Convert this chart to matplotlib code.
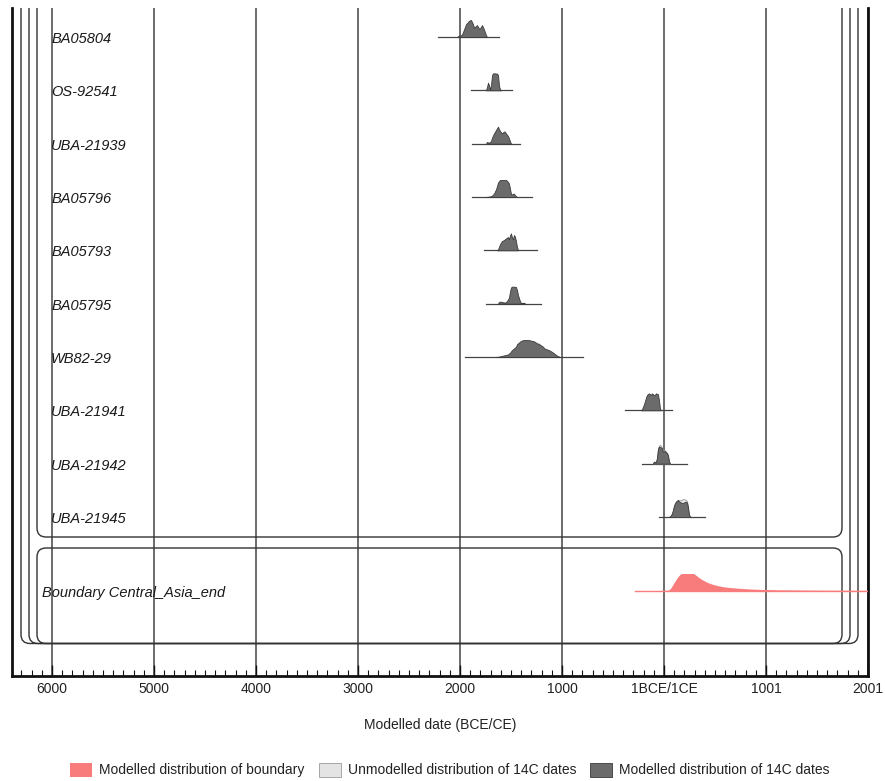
import numpy as np
import matplotlib
matplotlib.use("Agg")
import matplotlib.pyplot as plt
from matplotlib.patches import FancyBboxPatch, Patch
from matplotlib.transforms import Affine2D

plt.rcParams['font.family'] = ['Liberation Sans', 'DejaVu Sans']

# ---------------- data (years: negative = BCE) ----------------
sample_names = ["BA05804", "OS-92541", "UBA-21939", "BA05796", "BA05793",
                "BA05795", "WB82-29", "UBA-21941", "UBA-21942", "UBA-21945"]
range_lo = [-2216, -1892, -1882, -1882, -1765, -1745, -1951, -382, -216, -49]
range_hi = [-1618, -1490, -1412, -1294, -1245, -1206, -794, 78, 225, 402]

ba05804_years = [-2029, -2010, -1990, -1980, -1960, -1941, -1912, -1892, -1872, -1863, -1843,
                 -1833, -1814, -1804, -1784, -1765, -1745, -1735]
ba05804_dens = [0, 0.08, 0.1, 0.15, 0.45, 0.75, 0.95, 1.0, 0.75, 0.55, 0.65, 0.7, 0.5, 0.5,
                0.7, 0.45, 0.1, 0]
os92541_years = [-1745, -1735, -1725, -1715, -1706, -1696, -1686, -1676, -1657, -1637, -1627,
                 -1618, -1608, -1598]
os92541_dens = [0, 0.2, 0.45, 0.3, 0.05, 0.3, 0.9, 1.0, 1.0, 0.98, 0.9, 0.3, 0.05, 0]
uba21939_years = [-1745, -1735, -1716, -1696, -1686, -1667, -1647, -1627, -1618, -1608, -1588,
                  -1569, -1559, -1549, -1529, -1510, -1500]
uba21939_dens = [0, 0.1, 0.05, 0.15, 0.35, 0.6, 0.8, 1.0, 0.85, 0.75, 0.6, 0.72, 0.7, 0.6,
                 0.45, 0.15, 0]
ba05796_years = [-1745, -1706, -1686, -1667, -1647, -1627, -1608, -1588, -1549, -1539, -1520,
                 -1510, -1500, -1490, -1471, -1461, -1441]
ba05796_dens = [0, 0.03, 0.08, 0.2, 0.45, 0.85, 1.0, 1.0, 1.0, 0.95, 0.8, 0.5, 0.18, 0.15,
                0.2, 0.1, 0]
ba05793_years = [-1637, -1627, -1608, -1588, -1569, -1549, -1529, -1520, -1510, -1500, -1490,
                 -1480, -1471, -1461, -1451, -1441, -1431]
ba05793_dens = [0, 0.05, 0.35, 0.55, 0.6, 0.7, 0.78, 0.65, 0.85, 1.0, 0.75, 0.65, 0.9, 0.8,
                0.55, 0.2, 0]
ba05795_years = [-1627, -1618, -1598, -1578, -1559, -1539, -1520, -1510, -1500, -1490, -1471,
                 -1451, -1441, -1431, -1412, -1402, -1392, -1373, -1363]
ba05795_dens = [0, 0.1, 0.12, 0.08, 0.06, 0.15, 0.35, 0.7, 0.95, 1.0, 1.0, 0.98, 0.8, 0.5,
                0.15, 0.05, 0.02, 0.06, 0]
wb8229_years = [-1647, -1618, -1578, -1549, -1529, -1510, -1490, -1471, -1451, -1441, -1422,
                -1402, -1373, -1343, -1314, -1294, -1275, -1255, -1245, -1226, -1216, -1196,
                -1186, -1167, -1147, -1127, -1098, -1079, -1059, -1039, -1020]
wb8229_dens = [0, 0.02, 0.08, 0.12, 0.15, 0.25, 0.4, 0.5, 0.6, 0.75, 0.85, 0.95, 1.0, 1.0,
               0.98, 0.95, 0.92, 0.85, 0.8, 0.78, 0.72, 0.65, 0.6, 0.48, 0.45, 0.4, 0.3, 0.22,
               0.12, 0.05, 0]
uba21941_years = [-226, -216, -196, -176, -167, -157, -147, -137, -127, -118, -108, -98, -88,
                  -78, -69, -59, -49, -39, -29]
uba21941_dens = [0, 0.05, 0.35, 0.75, 0.9, 0.95, 1.0, 0.95, 0.9, 1.0, 0.95, 0.88, 0.92, 1.0,
                 0.97, 0.95, 0.6, 0.1, 0]
uba21942_years = [-108, -98, -88, -78, -69, -59, -49, -39, -29, -20, -10, 0, 10, 20, 29, 39,
                  49, 59]
uba21942_dens = [0, 0.12, 0.1, 0.1, 0.3, 0.85, 1.0, 0.98, 0.95, 0.9, 0.7, 0.72, 0.75, 0.65,
                 0.62, 0.5, 0.15, 0]
uba21942_unmod = [0, 0.1, 0.1, 0.12, 0.35, 0.85, 1.05, 1.1, 1.05, 0.95, 0.8, 0.78, 0.78, 0.7,
                  0.65, 0.5, 0.15, 0]
uba21945_years = [49, 59, 69, 78, 88, 98, 108, 118, 127, 137, 147, 157, 167, 176, 186, 196,
                  206, 216, 226, 235, 245, 255, 265]
uba21945_dens = [0, 0.03, 0.1, 0.2, 0.4, 0.65, 0.8, 0.9, 0.95, 1.0, 0.92, 0.88, 0.85, 0.82,
                 0.83, 0.85, 0.88, 0.9, 0.85, 0.6, 0.15, 0.02, 0]
uba21945_unmod = [0, 0.03, 0.1, 0.2, 0.4, 0.65, 0.8, 0.9, 0.95, 1.0, 0.98, 0.98, 1.0, 1.02,
                  1.05, 1.05, 1.03, 1.0, 0.92, 0.65, 0.15, 0.02, 0]

modelled_years = [ba05804_years, os92541_years, uba21939_years, ba05796_years, ba05793_years,
                  ba05795_years, wb8229_years, uba21941_years, uba21942_years, uba21945_years]
modelled_dens = [ba05804_dens, os92541_dens, uba21939_dens, ba05796_dens, ba05793_dens,
                 ba05795_dens, wb8229_dens, uba21941_dens, uba21942_dens, uba21945_dens]
unmodelled = {8: uba21942_unmod, 9: uba21945_unmod}

boundary_name = "Boundary Central_Asia_end"
boundary_lo = -284
boundary_hi = 2001
boundary_years = [-20, 49, 69, 88, 108, 127, 147, 167, 186, 294, 314, 333, 353, 373, 392, 422,
                  451, 490, 529, 578, 628, 680, 745, 843, 970, 1137, 1333, 1529, 1725, 1922,
                  2001]
boundary_dens = [0, 0.02, 0.12, 0.3, 0.5, 0.68, 0.85, 0.97, 1.0, 1.0, 0.92, 0.83, 0.74, 0.66,
                 0.6, 0.5, 0.43, 0.35, 0.29, 0.23, 0.19, 0.16, 0.13, 0.09, 0.06, 0.04, 0.03,
                 0.02, 0.015, 0.01, 0.01]

major_ticks = [-6000, -5000, -4000, -3000, -2000, -1000, 0, 1000, 2000]
major_labels = ["6000", "5000", "4000", "3000", "2000", "1000", "1BCE/1CE", "1001", "2001"]

# ---------------- figure ----------------
W, H = 885, 781
fig = plt.figure(figsize=(W / 100, H / 100), dpi=100)
ax_l, ax_r, ax_t, ax_b = 12, 868, 8, 676
ax = fig.add_axes([ax_l / W, (H - ax_b) / H, (ax_r - ax_l) / W, (ax_b - ax_t) / H])

row_px = 53.33
base_px = 37
y_top = (ax_t - base_px) / row_px
y_bot = (ax_b - base_px) / row_px
ax.set_xlim(-6393, 2001)
ax.set_ylim(y_bot, y_top)
hscale = 17 / row_px
label_dy = 2 / row_px

MOD_FILL = "#6b6b6b"
MOD_EDGE = "#3a3a3a"
UNMOD_FILL = "#e4e4e4"
UNMOD_EDGE = "#9a9a9a"
PINK = "#f87c7c"

for g in major_ticks:
    ax.axvline(g, color="#444444", lw=1.1, zorder=1)

for i, name in enumerate(sample_names):
    ax.plot([range_lo[i], range_hi[i]], [i, i], color="#444444", lw=0.9, zorder=3)
    yrs = np.array(modelled_years[i], dtype=float)
    if i in unmodelled:
        u = np.array(unmodelled[i])
        ax.fill_between(yrs, i, i - u * hscale, facecolor=UNMOD_FILL, edgecolor=UNMOD_EDGE,
                        lw=0.6, zorder=3)
    d = np.array(modelled_dens[i])
    ax.fill_between(yrs, i, i - d * hscale, facecolor=MOD_FILL, edgecolor=MOD_EDGE,
                    lw=0.6, zorder=4)
    ax.text(-6010, i + label_dy, name, ha="left", va="center", fontsize=10.5, style="italic",
            color="#1a1a1a", zorder=5)

yb = (591 - base_px) / row_px
ax.plot([boundary_lo, boundary_hi], [yb, yb], color=PINK, lw=1.0, zorder=3)
bd = np.array(boundary_dens)
ax.fill_between(boundary_years, yb, yb - bd * hscale, facecolor=PINK, edgecolor="none",
                zorder=4)
ax.text(-6100, yb + label_dy, boundary_name, ha="left", va="center", fontsize=10.5,
        style="italic", color="#1a1a1a", zorder=5)

# nested rounded boxes (pixel layout)
pix = Affine2D().scale(1 / W, -1 / H).translate(0, 1) + fig.transFigure
boxes = [(37, -30, 842, 537), (37, 548, 842, 643.5), (29, -30, 850, 643.5),
         (21, -30, 858, 643.5)]
for (x0, y0, x1, y1) in boxes:
    p = FancyBboxPatch((x0, y0), x1 - x0, y1 - y0,
                       boxstyle="round,pad=0,rounding_size=9",
                       transform=pix, facecolor="none", edgecolor="#333333", lw=1.0,
                       zorder=2)
    p.set_clip_box(ax.bbox)
    ax.add_artist(p)

# axes styling
ax.spines["top"].set_visible(False)
for s in ["left", "right", "bottom"]:
    ax.spines[s].set_linewidth(2)
    ax.spines[s].set_color("#111111")
ax.set_yticks([])
ax.set_xticks(major_ticks)
ax.set_xticklabels(major_labels)
ax.set_xticks(np.arange(-6300, 2001, 100), minor=True)
ax.tick_params(axis="x", which="major", direction="in", length=8, width=1, pad=4,
               labelsize=10, colors="#111111", labelcolor="#222222")
ax.tick_params(axis="x", which="minor", direction="in", length=4, width=0.8, colors="#111111")

fig.text(440 / W, 1 - 725 / H, "Modelled date (BCE/CE)", ha="center", va="center",
         fontsize=10, color="#222222")

handles = [Patch(facecolor=PINK, edgecolor="none"),
           Patch(facecolor=UNMOD_FILL, edgecolor=UNMOD_EDGE, lw=0.6),
           Patch(facecolor=MOD_FILL, edgecolor=MOD_EDGE, lw=0.6)]
labels = ["Modelled distribution of boundary", "Unmodelled distribution of 14C dates",
          "Modelled distribution of 14C dates"]
fig.legend(handles, labels, loc="center", bbox_to_anchor=(450 / W, 1 - 770 / H), ncol=3,
           frameon=False, fontsize=10, handlelength=1.6, handleheight=1.2,
           columnspacing=1.0, handletextpad=0.5, labelcolor="#222222")

fig.savefig("out.png", dpi=100)
